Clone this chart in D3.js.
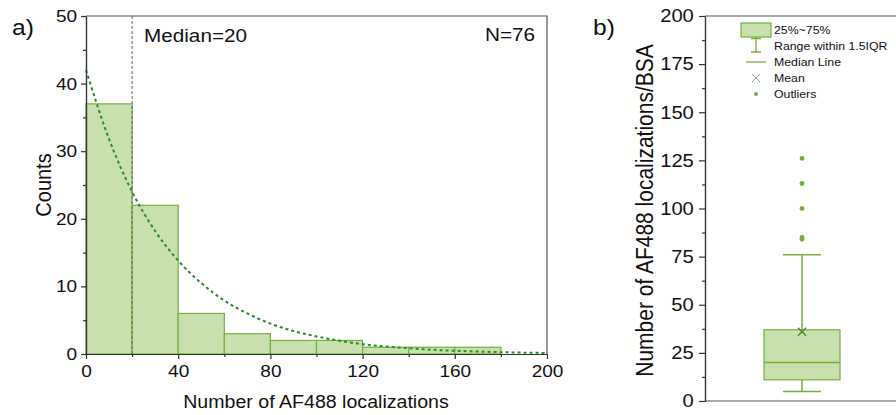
<!DOCTYPE html>
<html>
<head>
<meta charset="utf-8">
<script src="https://cdn.jsdelivr.net/npm/d3@7"></script>
<style>
  body { margin: 0; background: #fff; }
  svg { display: block; font-family: "Liberation Sans", Arial, sans-serif; }
</style>
</head>
<body>
<svg width="896" height="415"></svg>
<script>
// histogram data (panel a)
const binEdges = [0, 20, 40, 60, 80, 100, 120, 140, 160];
const binCounts = [37, 22, 6, 3, 2, 2, 1, 1, 1];
const binWidth = 20;
const medianValue = 20;
const sampleN = 76;

// fitted decay curve
const fitX = [0, 10, 20, 30, 40, 50, 60, 70, 80, 90, 100, 110, 120, 130, 140, 150, 160, 170, 180, 190, 200];
const fitY = [42, 31.8, 24, 18.2, 13.8, 10.5, 7.9, 6.0, 4.5, 3.4, 2.6, 1.95, 1.45, 1.1, 0.85, 0.63, 0.48, 0.36, 0.27, 0.2, 0.15];

const histXTicks = [0, 40, 80, 120, 160, 200];
const histYTicks = [0, 10, 20, 30, 40, 50];

// box plot data (panel b)
const boxGroup = ["AF488"];
const boxQ1 = 11, boxMedian = 20, boxQ3 = 37;
const whiskerLow = 5, whiskerHigh = 76;
const boxMean = 36;
const outliers = [84, 85, 100, 113, 126];
const boxYTicks = [0, 25, 50, 75, 100, 125, 150, 175, 200];
const legendLabels = ["25%~75%", "Range within 1.5IQR", "Median Line", "Mean", "Outliers"];

const svg = d3.select("svg");
const SX = 1.12; // source figure is slightly stretched sideways
const fill = "#c8e0ae", green = "#76b03c", fitColor = "#2a8a2a", axisColor = "#333";

function label(g, x, y, txt, size, anchor, rot) {
  return g.append("text")
    .attr("transform", `translate(${x},${y}) scale(${SX},1)` + (rot ? ` rotate(${rot})` : ""))
    .attr("text-anchor", anchor || "start")
    .style("font-size", size + "px")
    .attr("fill", "#111")
    .text(txt);
}

// ---------- panel a ----------
const x = d3.scaleLinear().domain([0, 200]).range([86, 547]);
const y = d3.scaleLinear().domain([0, 50]).range([354, 16]);
const ga = svg.append("g");

// bars
ga.selectAll("rect.bar")
  .data(binEdges)
  .join("rect")
  .attr("class", "bar")
  .attr("x", d => x(d))
  .attr("width", d => x(d + binWidth) - x(d))
  .attr("y", (d, i) => y(binCounts[i]))
  .attr("height", (d, i) => y(0) - y(binCounts[i]))
  .attr("fill", fill)
  .attr("stroke", green)
  .attr("stroke-width", 1.2);

// median line
ga.append("line")
  .attr("x1", x(medianValue)).attr("x2", x(medianValue))
  .attr("y1", y(50)).attr("y2", y(0))
  .attr("stroke", "#666").attr("stroke-width", 1)
  .attr("stroke-dasharray", "3,2");

// fit curve
ga.append("path")
  .datum(fitX.map((d, i) => [d, fitY[i]]))
  .attr("fill", "none")
  .attr("stroke", fitColor)
  .attr("stroke-width", 2)
  .attr("stroke-dasharray", "3,3")
  .attr("d", d3.line().x(d => x(d[0])).y(d => y(d[1])).curve(d3.curveMonotoneX));

// frame
ga.append("path")
  .attr("d", `M${x(0)},${y(50)}H${x(200)}V${y(0)}`)
  .attr("fill", "none").attr("stroke", "#555").attr("stroke-width", 1.2);

// axes
const xAxis = ga.append("g").attr("transform", `translate(0,${y(0)})`)
  .call(d3.axisBottom(x).tickValues(histXTicks).tickSize(5).tickPadding(6).tickSizeOuter(0));
ga.append("g").attr("transform", `translate(0,${y(0)})`)
  .call(d3.axisBottom(x).tickValues([20, 60, 100, 140, 180]).tickSize(3).tickFormat("").tickSizeOuter(0));
const yAxis = ga.append("g").attr("transform", `translate(${x(0)},0)`)
  .call(d3.axisLeft(y).tickValues(histYTicks).tickSize(5).tickPadding(3).tickSizeOuter(0));
ga.append("g").attr("transform", `translate(${x(0)},0)`)
  .call(d3.axisLeft(y).tickValues([5, 15, 25, 35, 45]).tickSize(3).tickFormat("").tickSizeOuter(0));

ga.selectAll(".domain, .tick line").attr("stroke", axisColor).attr("stroke-width", 1.2);
xAxis.selectAll("text").style("font-size", "17px").attr("fill", "#111")
  .attr("transform", `scale(${SX},1)`);
yAxis.selectAll("text").style("font-size", "17px").attr("fill", "#111")
  .attr("transform", `scale(${SX},1)`);
ga.selectAll(".tick text").style("font-family", "Liberation Sans, Arial, sans-serif");

label(ga, 144, 42, "Median=" + medianValue, 18.5);
label(ga, 535, 41, "N=" + sampleN, 18.5, "end");
label(ga, 316, 408, "Number of AF488 localizations", 17.5, "middle");
label(ga, 51, y(25), "Counts", 20, "middle", -90);
label(ga, 12, 35, "a)", 22);

// ---------- panel b ----------
const yb = d3.scaleLinear().domain([0, 200]).range([401, 16]);
const xb = d3.scalePoint().domain(boxGroup).range([705, 899]).padding(0.5);
const gb = svg.append("g");
const cx = xb(boxGroup[0]);
const boxW = 76, capW = 38;

// whisker
gb.append("line")
  .attr("x1", cx).attr("x2", cx)
  .attr("y1", yb(whiskerLow)).attr("y2", yb(whiskerHigh))
  .attr("stroke", green).attr("stroke-width", 1.5);
gb.selectAll("line.cap")
  .data([whiskerLow, whiskerHigh])
  .join("line")
  .attr("class", "cap")
  .attr("x1", cx - capW / 2).attr("x2", cx + capW / 2)
  .attr("y1", d => yb(d)).attr("y2", d => yb(d))
  .attr("stroke", green).attr("stroke-width", 1.5);

// box
gb.append("rect")
  .attr("x", cx - boxW / 2).attr("width", boxW)
  .attr("y", yb(boxQ3)).attr("height", yb(boxQ1) - yb(boxQ3))
  .attr("fill", fill).attr("stroke", green).attr("stroke-width", 1.2);
gb.append("line")
  .attr("x1", cx - boxW / 2).attr("x2", cx + boxW / 2)
  .attr("y1", yb(boxMedian)).attr("y2", yb(boxMedian))
  .attr("stroke", green).attr("stroke-width", 1.5);

// mean marker
const mk = 4;
gb.append("path")
  .attr("d", `M${cx - mk},${yb(boxMean) - mk}L${cx + mk},${yb(boxMean) + mk}M${cx - mk},${yb(boxMean) + mk}L${cx + mk},${yb(boxMean) - mk}`)
  .attr("stroke", "#4f7f2a").attr("stroke-width", 1.3);

// outliers
gb.selectAll("circle.out")
  .data(outliers)
  .join("circle")
  .attr("class", "out")
  .attr("cx", cx)
  .attr("cy", d => yb(d))
  .attr("r", 2.4)
  .attr("fill", green);

// frame + axes
gb.append("path")
  .attr("d", `M${xb.range()[0]},${yb(200)}H900M${xb.range()[0]},${yb(0)}H900`)
  .attr("stroke", "#555").attr("stroke-width", 1.2);
const ybAxis = gb.append("g").attr("transform", `translate(${xb.range()[0]},0)`)
  .call(d3.axisLeft(yb).tickValues(boxYTicks).tickSize(6).tickPadding(4).tickSizeOuter(0));
gb.append("g").attr("transform", `translate(${xb.range()[0]},0)`)
  .call(d3.axisLeft(yb).tickValues([12.5, 37.5, 62.5, 87.5, 112.5, 137.5, 162.5, 187.5]).tickSize(3).tickFormat("").tickSizeOuter(0));
gb.selectAll(".domain, .tick line").attr("stroke", axisColor).attr("stroke-width", 1.2);
ybAxis.selectAll("text").style("font-size", "18px").attr("fill", "#111")
  .style("font-family", "Liberation Sans, Arial, sans-serif")
  .attr("transform", `scale(${SX},1)`);

label(gb, 653, (yb(0) + yb(200)) / 2 + 2, "Number of AF488 localizations/BSA", 21, "middle", -90);
label(gb, 593, 35, "b)", 22);

// legend
const lx = 756, lt = 774;
const rowY = [30, 46, 62, 78, 94];
const lg = gb.append("g");
lg.append("rect").attr("x", lx - 15).attr("y", rowY[0] - 7).attr("width", 30).attr("height", 14)
  .attr("fill", fill).attr("stroke", green).attr("stroke-width", 1.2);
lg.append("path")
  .attr("d", `M${lx},${rowY[0] + 7}V${rowY[1] + 6}M${lx - 5},${rowY[0] + 8.5}H${lx + 5}M${lx - 5},${rowY[1] + 6}H${lx + 5}`)
  .attr("stroke", green).attr("stroke-width", 1.3).attr("fill", "none");
lg.append("line").attr("x1", lx - 10).attr("x2", lx + 10).attr("y1", rowY[2]).attr("y2", rowY[2])
  .attr("stroke", green).attr("stroke-width", 1.3);
lg.append("path")
  .attr("d", `M${lx - 4},${rowY[3] - 4}L${lx + 4},${rowY[3] + 4}M${lx - 4},${rowY[3] + 4}L${lx + 4},${rowY[3] - 4}`)
  .attr("stroke", "#8aa878").attr("stroke-width", 1);
lg.append("circle").attr("cx", lx).attr("cy", rowY[4]).attr("r", 2).attr("fill", green);
legendLabels.forEach((t, i) => label(lg, lt, rowY[i] + 4, t, 11));
</script>
</body>
</html>
